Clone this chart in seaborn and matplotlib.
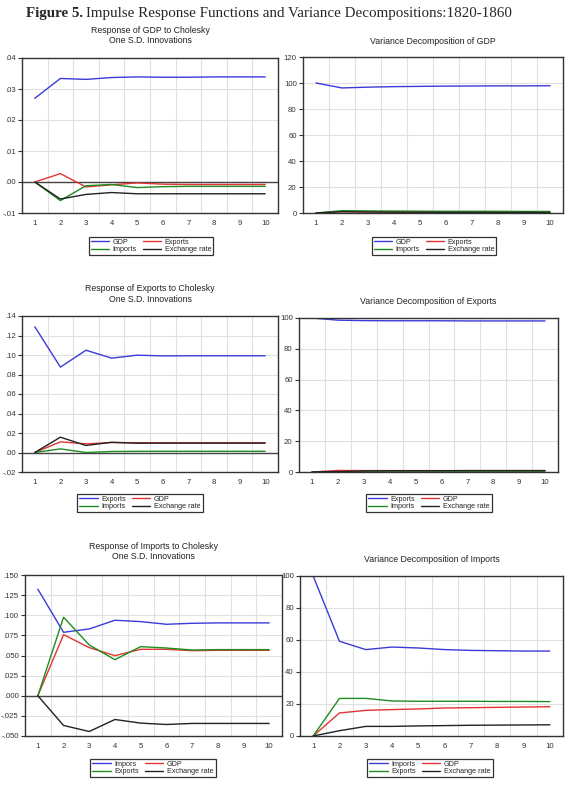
import numpy as np
import pandas as pd
import matplotlib
matplotlib.use("Agg")
import matplotlib.pyplot as plt
import seaborn as sns
from matplotlib.ticker import FixedLocator, FuncFormatter, MultipleLocator

W, H = 568, 789

periods = list(range(1, 11))

# Response of GDP to Cholesky one S.D. innovations
irf_gdp_gdp = [0.0270, 0.0334, 0.0331, 0.0337, 0.0339, 0.0338, 0.0338, 0.0339, 0.0339, 0.0339]
irf_gdp_exports = [0.0, 0.0027, -0.0016, -0.0009, -0.0003, -0.0007, -0.0008, -0.0008, -0.0008, -0.0008]
irf_gdp_imports = [0.0, -0.0060, -0.0012, -0.0008, -0.0018, -0.0015, -0.0014, -0.0014, -0.0014, -0.0014]
irf_gdp_exrate = [0.0, -0.0055, -0.0040, -0.0034, -0.0038, -0.0038, -0.0038, -0.0038, -0.0038, -0.0038]

# Variance decomposition of GDP
vd_gdp_gdp = [100.0, 96.2, 96.8, 97.2, 97.4, 97.6, 97.7, 97.8, 97.8, 97.9]
vd_gdp_exports = [0.0, 1.0, 0.8, 0.7, 0.6, 0.6, 0.5, 0.5, 0.5, 0.5]
vd_gdp_imports = [0.0, 1.8, 1.6, 1.5, 1.4, 1.3, 1.3, 1.3, 1.2, 1.2]
vd_gdp_exrate = [0.0, 1.0, 0.8, 0.6, 0.6, 0.5, 0.5, 0.4, 0.5, 0.4]

# Response of Exports
irf_exp_exports = [0.1290, 0.0876, 0.1049, 0.0968, 0.0998, 0.0991, 0.0992, 0.0992, 0.0992, 0.0992]
irf_exp_gdp = [0.0, 0.0109, 0.0089, 0.0102, 0.0100, 0.0100, 0.0100, 0.0100, 0.0100, 0.0100]
irf_exp_imports = [0.0, 0.0037, 0.0000, 0.0010, 0.0012, 0.0012, 0.0012, 0.0012, 0.0012, 0.0012]
irf_exp_exrate = [0.0, 0.0157, 0.0072, 0.0105, 0.0095, 0.0096, 0.0096, 0.0096, 0.0096, 0.0096]

# Variance decomposition of Exports
vd_exp_exports = [100.0, 98.6, 98.3, 98.2, 98.2, 98.2, 98.1, 98.1, 98.1, 98.1]
vd_exp_gdp = [0.0, 1.0, 0.9, 0.9, 0.9, 0.9, 0.9, 0.9, 0.9, 0.9]
vd_exp_imports = [0.0, 0.1, 0.1, 0.1, 0.1, 0.1, 0.1, 0.1, 0.1, 0.1]
vd_exp_exrate = [0.0, 0.3, 0.7, 0.8, 0.8, 0.8, 0.9, 0.9, 0.9, 0.9]

# Response of Imports
irf_imp_imports = [0.1324, 0.0788, 0.0830, 0.0938, 0.0921, 0.0888, 0.0900, 0.0905, 0.0905, 0.0905]
irf_imp_gdp = [0.0, 0.0759, 0.0598, 0.0498, 0.0577, 0.0577, 0.0560, 0.0564, 0.0564, 0.0564]
irf_imp_exports = [0.0, 0.0975, 0.0631, 0.0448, 0.0610, 0.0593, 0.0568, 0.0573, 0.0573, 0.0573]
irf_imp_exrate = [0.0, -0.0369, -0.0444, -0.0295, -0.0340, -0.0357, -0.0344, -0.0344, -0.0344, -0.0344]

# Variance decomposition of Imports
vd_imp_imports = [100.0, 59.2, 54.0, 55.6, 55.0, 54.0, 53.5, 53.3, 53.1, 53.1]
vd_imp_gdp = [0.0, 14.4, 16.0, 16.5, 16.9, 17.5, 17.7, 17.9, 18.1, 18.3]
vd_imp_exports = [0.0, 23.5, 23.5, 21.9, 21.7, 21.7, 21.7, 21.6, 21.6, 21.5]
vd_imp_exrate = [0.0, 3.3, 6.0, 6.0, 6.3, 6.5, 6.7, 6.8, 6.9, 7.0]

BLUE, RED, GREEN, BLACK = "#3b3bd8", "#e23434", "#1f8c1f", "#222222"
EDGE = "#333333"

sns.set_style("white")
plt.rcParams["font.family"] = ["Liberation Sans", "DejaVu Sans"]


def dec_fmt(nd):
    def f(v, pos):
        s = f"{v:.{nd}f}"
        if s.startswith("-0."):
            s = "-" + s[2:]
        elif s.startswith("0."):
            s = s[1:]
        return s
    return FuncFormatter(f)


def box(l, t, r, b):
    return [l / W, 1 - b / H, (r - l) / W, (b - t) / H]


def draw_panel(fig, rect, names, series, ylim, ystep, yfmt, title, title_y, leg_xy, zero_line):
    ax = fig.add_axes(box(*rect))
    df = pd.DataFrame({
        "period": periods * len(names),
        "value": sum(series, []),
        "shock": np.repeat(names, len(periods)),
    })
    pal = dict(zip(names, [BLUE, RED, GREEN, BLACK]))
    sns.lineplot(data=df, x="period", y="value", hue="shock", hue_order=names,
                 palette=pal, linewidth=1.0, ax=ax, legend=False, errorbar=None)
    lines = ax.get_lines()[:4]
    if zero_line:
        ax.axhline(0, color="#444444", lw=1.0, zorder=1)

    ax.set_xlim(0.5, 10.5)
    ax.set_ylim(*ylim)
    ax.xaxis.set_major_locator(FixedLocator(periods))
    ax.xaxis.set_minor_locator(FixedLocator([p + 0.5 for p in periods[:-1]]))
    ax.yaxis.set_major_locator(MultipleLocator(ystep))
    ax.yaxis.set_major_formatter(yfmt)
    ax.tick_params(axis="x", which="major", length=0, pad=5, labelsize=5.6, labelcolor="#333333")
    ax.tick_params(axis="x", which="minor", length=3, width=0.8, color=EDGE, direction="out")
    ax.tick_params(axis="y", which="major", length=3, width=0.8, color=EDGE, direction="out",
                   pad=1.5, labelsize=5.6, labelcolor="#333333", left=True)
    ax.grid(True, axis="x", which="minor", color="#e0e0e0", lw=0.8)
    ax.grid(True, axis="y", which="major", color="#e0e0e0", lw=0.8)
    ax.grid(False, axis="x", which="major")
    for s in ax.spines.values():
        s.set_visible(True)
        s.set_color(EDGE)
        s.set_linewidth(1.0)
    ax.set_xlabel("")
    ax.set_ylabel("")

    cx = (rect[0] + rect[2]) / 2
    fig.text(cx / W, 1 - title_y / H, title, ha="center", va="center",
             fontsize=6.3, color="#222222", linespacing=1.25)

    order = [0, 2, 1, 3]
    leg = ax.legend([lines[i] for i in order], [names[i] for i in order],
                    loc="center", bbox_to_anchor=(leg_xy[0] / W, 1 - leg_xy[1] / H),
                    bbox_transform=fig.transFigure, ncol=2, fontsize=5.2,
                    frameon=True, fancybox=False, edgecolor=EDGE, framealpha=1,
                    borderpad=0.3, handlelength=2.5, handletextpad=0.5,
                    columnspacing=0.9, labelspacing=0.05, borderaxespad=0)
    leg.get_frame().set_linewidth(0.9)
    return ax


fig = plt.figure(figsize=(W / 100, H / 100), dpi=100)

draw_panel(fig, (22, 58, 278, 213), ["GDP", "Exports", "Imports", "Exchange rate"],
           [irf_gdp_gdp, irf_gdp_exports, irf_gdp_imports, irf_gdp_exrate],
           (-0.01, 0.04), 0.01, dec_fmt(2),
           "Response of GDP to Cholesky\nOne S.D. Innovations", 35.5, (151, 246), True)

draw_panel(fig, (303, 57, 563, 213), ["GDP", "Exports", "Imports", "Exchange rate"],
           [vd_gdp_gdp, vd_gdp_exports, vd_gdp_imports, vd_gdp_exrate],
           (0, 120), 20, dec_fmt(0),
           "Variance Decomposition of GDP", 42, (434, 246), False)

draw_panel(fig, (22, 316, 278, 472), ["Exports", "GDP", "Imports", "Exchange rate"],
           [irf_exp_exports, irf_exp_gdp, irf_exp_imports, irf_exp_exrate],
           (-0.02, 0.14), 0.02, dec_fmt(2),
           "Response of Exports to Cholesky\nOne S.D. Innovations", 294, (140, 503), True)

draw_panel(fig, (299, 318, 558, 472), ["Exports", "GDP", "Imports", "Exchange rate"],
           [vd_exp_exports, vd_exp_gdp, vd_exp_imports, vd_exp_exrate],
           (0, 100), 20, dec_fmt(0),
           "Variance Decomposition of Exports", 302, (429, 503), False)

draw_panel(fig, (25, 575, 282, 736), ["Impors", "GDP", "Exports", "Exchange rate"],
           [irf_imp_imports, irf_imp_gdp, irf_imp_exports, irf_imp_exrate],
           (-0.05, 0.15), 0.025, dec_fmt(3),
           "Response of Imports to Cholesky\nOne S.D. Innovations", 551.5, (153, 768), True)

draw_panel(fig, (300, 576, 563, 736), ["Imports", "GDP", "Exports", "Exchange rate"],
           [vd_imp_imports, vd_imp_gdp, vd_imp_exports, vd_imp_exrate],
           (0, 100), 20, dec_fmt(0),
           "Variance Decomposition of Imports", 559, (430, 768), False)

# figure caption: bold label followed by regular text
serif = ["Liberation Serif", "DejaVu Serif"]
t1 = fig.text(26 / W, 1 - 13 / H, "Figure 5.", ha="left", va="center",
              fontsize=10.8, fontweight="bold", family=serif)
fig.canvas.draw()
bb = t1.get_window_extent(renderer=fig.canvas.get_renderer())
fig.text(bb.x1 / W + 3.5 / W, 1 - 13 / H,
         "Impulse Response Functions and Variance Decompositions:1820-1860",
         ha="left", va="center", fontsize=10.8, family=serif)

fig.savefig("out.png", dpi=100)
